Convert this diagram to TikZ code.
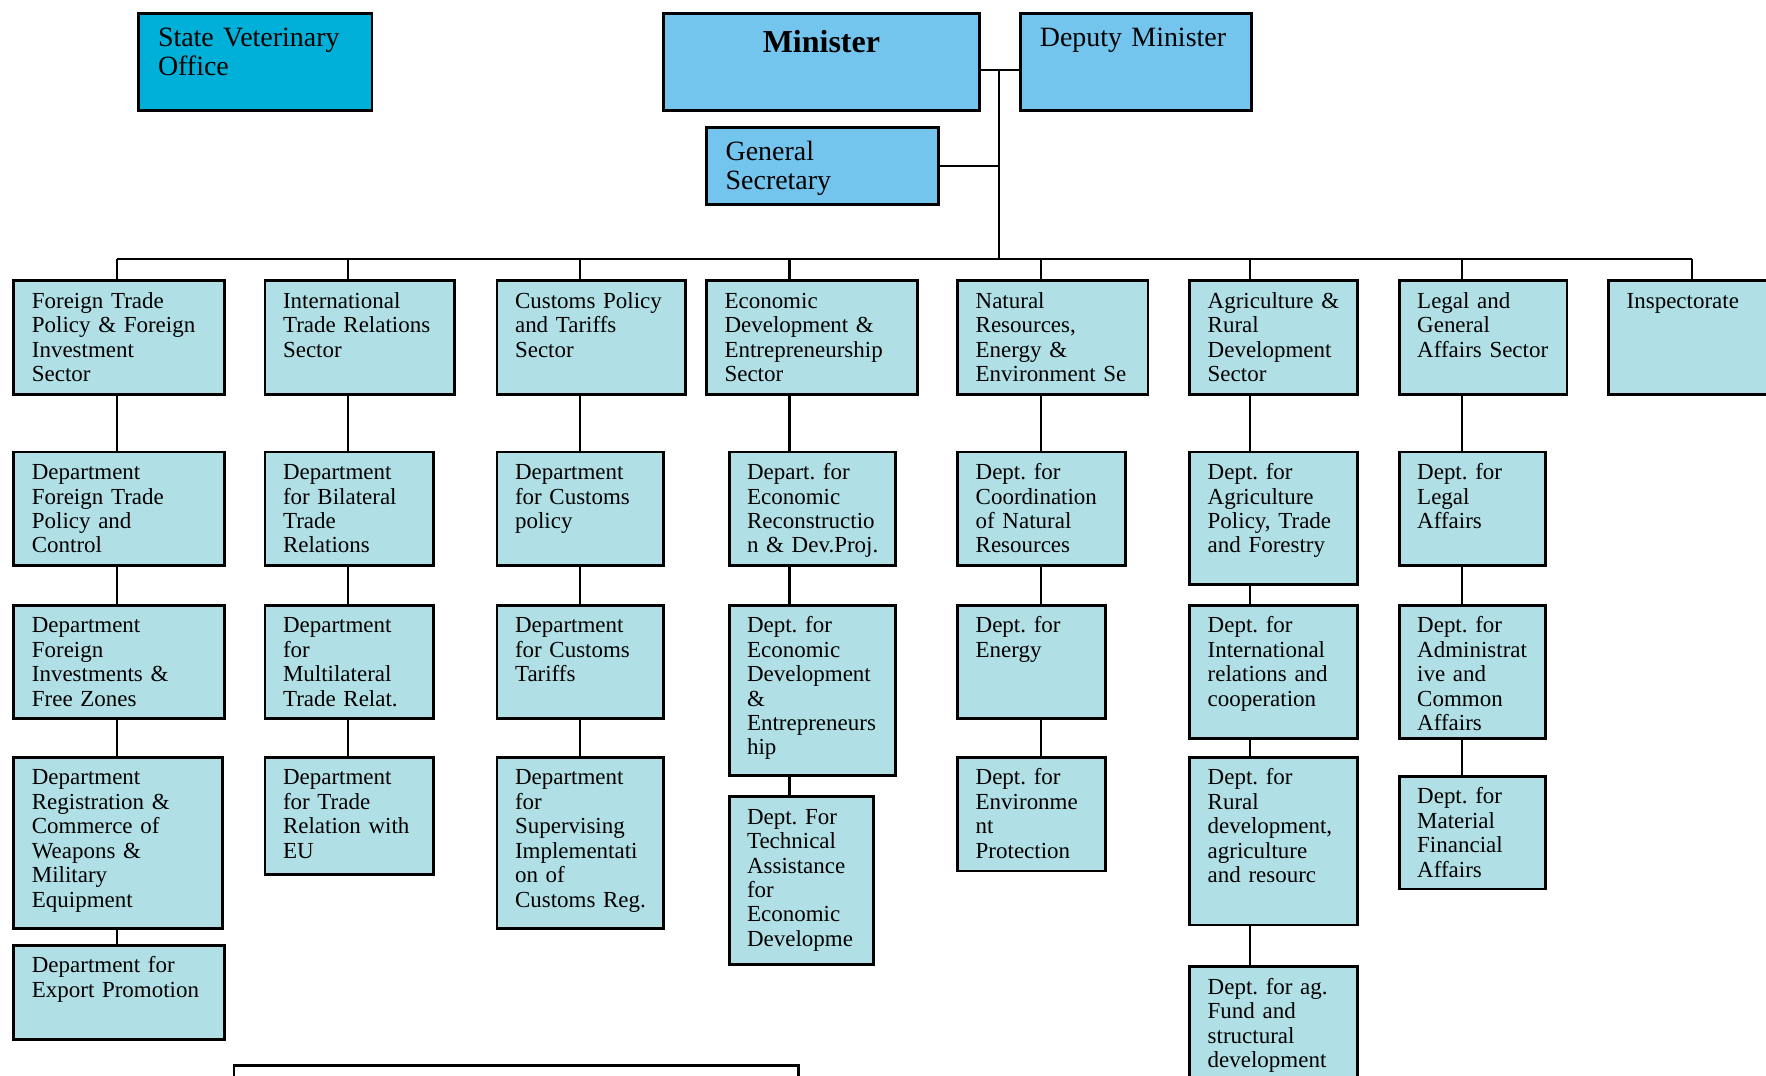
\documentclass[tikz,border=0pt]{standalone}
\usepackage{fontspec}
\setmainfont{Liberation Serif}
\usetikzlibrary{calc}
\frenchspacing

\definecolor{unitblue}{HTML}{B0DFE5}
\definecolor{headblue}{HTML}{73C5EE}
\definecolor{vetblue}{HTML}{00B0D8}

\tikzset{
  orgbox/.style 2 args={draw, line width=1.3pt, fill=unitblue, anchor=north west,
    inner xsep=8pt, inner ysep=0pt, align=left,
    font=\fontsize{10.2}{10.85}\selectfont,
    text width=#1*0.5pt-16pt, text height=12.25pt, text depth=#2*0.5pt-12.25pt},
  headbox/.style 2 args={draw, line width=1.3pt, fill=headblue, anchor=north west,
    inner xsep=8.5pt, inner ysep=0pt, align=left,
    font=\fontsize{12.4}{13}\selectfont,
    text width=#1*0.5pt-17pt, text height=14.5pt, text depth=#2*0.5pt-14.5pt},
  link/.style={line width=1pt}
}

\begin{document}
\begin{tikzpicture}[x=0.5pt,y=-0.5pt]

% Page frame
\useasboundingbox (0,0) rectangle (1568,955);
\clip (0,0) rectangle (1568,955);

% Top level
\node[headbox={207}{86}, fill=vetblue] (vet) at (122,11) {State Veterinary\\Office};
\node[headbox={280}{86}, align=center, text height=17pt, text depth=26pt,
      font=\fontsize{14.2}{15}\selectfont\bfseries] (min) at (588,11) {Minister};
\node[headbox={205}{86}] (dep) at (905,11) {Deputy Minister};
\node[headbox={206}{68}] (gen) at (626,112) {General\\Secretary};

% Trunk and bus
\coordinate (hub) at (887,62);
\coordinate (c1) at (104,230);
\coordinate (c2) at (309,230);
\coordinate (c3) at (515,230);
\coordinate (c4) at (701,230);
\coordinate (c5) at (924,230);
\coordinate (c6) at (1110,230);
\coordinate (c7) at (1298,230);
\coordinate (c8) at (1502,230);
\draw[link] (min.east |- hub) -- (dep.west |- hub);
\draw[link] (hub) -- (hub |- c1);
\draw[link] (gen.east) -- (gen.east -| hub);
\draw[link] (c1) -- (c8);

% Sectors
\node[orgbox={187}{101}] (s1) at (11,248) {Foreign Trade\\Policy \& Foreign\\Investment\\Sector};
\node[orgbox={168}{101}] (s2) at (234,248) {International\\Trade Relations\\Sector};
\node[orgbox={167}{101}] (s3) at (440,248) {Customs Policy\\and Tariffs\\Sector};
\node[orgbox={187}{101}] (s4) at (626,248) {Economic\\Development \&\\Entrepreneurship\\Sector};
\node[orgbox={169}{101}] (s5) at (849,248) {Natural\\Resources,\\Energy \&\\Environment~Se};
\node[orgbox={149}{101}] (s6) at (1055,248) {Agriculture \&\\Rural\\Development\\Sector};
\node[orgbox={149}{101}] (s7) at (1241,248) {Legal and\\General\\Affairs~Sector};
\node[orgbox={150}{101}] (s8) at (1427,248) {Inspectorate};

% Departments
\node[orgbox={187}{101}] (d1a) at (11,400) {Department\\Foreign Trade\\Policy and\\Control};
\node[orgbox={187}{101}] (d1b) at (11,536) {Department\\Foreign\\Investments \&\\Free Zones};
\node[orgbox={185}{152}] (d1c) at (11,671) {Department\\Registration \&\\Commerce of\\Weapons \&\\Military\\Equipment};
\node[orgbox={187}{84}] (d1d) at (11,838) {Department~for\\Export~Promotion};

\node[orgbox={150}{101}] (d2a) at (234,400) {Department\\for Bilateral\\Trade\\Relations};
\node[orgbox={150}{101}] (d2b) at (234,536) {Department\\for\\Multilateral\\Trade~Relat.};
\node[orgbox={150}{104}] (d2c) at (234,671) {Department\\for Trade\\Relation~with\\EU};

\node[orgbox={148}{101}] (d3a) at (440,400) {Department\\for Customs\\policy};
\node[orgbox={148}{101}] (d3b) at (440,536) {Department\\for Customs\\Tariffs};
\node[orgbox={148}{152}] (d3c) at (440,671) {Department\\for\\Supervising\\Implementati\\on of\\Customs~Reg.};

\node[orgbox={148}{101}] (d4a) at (646,400) {Depart. for\\Economic\\Reconstructio\\n~\&~Dev.Proj.};
\node[orgbox={148}{151}] (d4b) at (646,536) {Dept. for\\Economic\\Development\\\&\\Entrepreneurs\\hip};
\node[orgbox={128}{149}] (d4c) at (646,706) {Dept. For\\Technical\\Assistance\\for\\Economic\\Developme};

\node[orgbox={149}{101}] (d5a) at (849,400) {Dept. for\\Coordination\\of Natural\\Resources};
\node[orgbox={131}{101}] (d5b) at (849,536) {Dept. for\\Energy};
\node[orgbox={131}{101}] (d5c) at (849,671) {Dept. for\\Environme\\nt\\Protection};

\node[orgbox={149}{118}] (d6a) at (1055,400) {Dept. for\\Agriculture\\Policy,~Trade\\and~Forestry};
\node[orgbox={149}{118}] (d6b) at (1055,536) {Dept. for\\International\\relations~and\\cooperation};
\node[orgbox={149}{149}] (d6c) at (1055,671) {Dept. for\\Rural\\development,\\agriculture\\and~resourc};
\node[orgbox={149}{110}] (d6d) at (1055,857) {Dept.~for~ag.\\Fund and\\structural\\development};

\node[orgbox={130}{101}] (d7a) at (1241,400) {Dept. for\\Legal\\Affairs};
\node[orgbox={130}{118}] (d7b) at (1241,536) {Dept. for\\Administrat\\ive and\\Common\\Affairs};
\node[orgbox={130}{100}] (d7c) at (1241,688) {Dept. for\\Material\\Financial\\Affairs};

% Drops from the bus
\foreach \c/\s in {c1/s1,c2/s2,c3/s3,c4/s4,c5/s5,c6/s6,c7/s7,c8/s8}
  \draw[link] (\c) -- (\c |- \s.north);

% Column links
\foreach \c/\a/\b in {c1/s1/d1a,c1/d1a/d1b,c1/d1b/d1c,c1/d1c/d1d,
                      c2/s2/d2a,c2/d2a/d2b,c2/d2b/d2c,
                      c3/s3/d3a,c3/d3a/d3b,c3/d3b/d3c,
                      c4/s4/d4a,c4/d4a/d4b,c4/d4b/d4c,
                      c5/s5/d5a,c5/d5a/d5b,c5/d5b/d5c,
                      c6/s6/d6a,c6/d6a/d6b,c6/d6b/d6c,c6/d6c/d6d,
                      c7/s7/d7a,c7/d7a/d7b,c7/d7b/d7c}
  \draw[link] (\c |- \a.south) -- (\c |- \b.north);

% Box cut off at the bottom
\draw[line width=1pt, fill=white] (208,946) rectangle (709,1000);

\end{tikzpicture}
\end{document}
